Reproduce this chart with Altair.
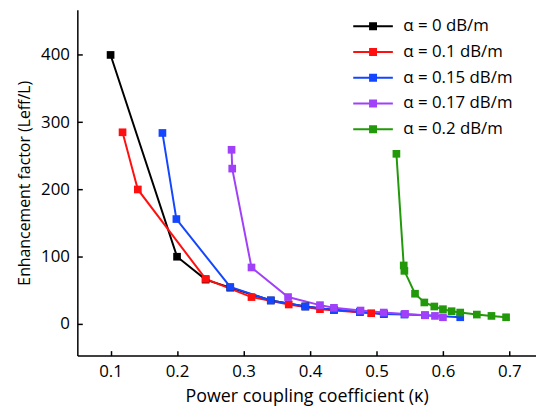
import altair as alt
import pandas as pd

names = ["α = 0 dB/m", "α = 0.1 dB/m", "α = 0.15 dB/m", "α = 0.17 dB/m", "α = 0.2 dB/m"]
colors = ["#000000", "#ff1010", "#1446ff", "#a040f8", "#22990a"]

black_x = [0.1, 0.2, 0.243, 0.28, 0.341, 0.393, 0.436, 0.475, 0.511]
black_y = [400, 100, 66, 54, 35, 26, 21, 18, 15]
red_x = [0.118, 0.141, 0.243, 0.312, 0.368, 0.415, 0.492]
red_y = [285, 200, 67, 40, 29, 22, 16]
blue_x = [0.178, 0.199, 0.280, 0.341, 0.393, 0.436, 0.475, 0.511, 0.542, 0.573, 0.626]
blue_y = [284, 156, 55, 35, 26, 21, 18, 15, 14, 13, 10]
purple_x = [0.282, 0.283, 0.312, 0.367, 0.415, 0.436, 0.476, 0.511, 0.543, 0.573, 0.588, 0.600]
purple_y = [259, 231, 84, 40, 28, 24, 20, 17, 15, 13, 12, 10]
green_x = [0.530, 0.541, 0.542, 0.558, 0.572, 0.587, 0.600, 0.613, 0.626, 0.651, 0.673, 0.695]
green_y = [253, 87, 79, 45, 32, 26, 22, 19, 17, 14, 12, 10]

series = [(black_x, black_y), (red_x, red_y), (blue_x, blue_y), (purple_x, purple_y), (green_x, green_y)]
rows = []
for i, (xs, ys) in enumerate(series):
    for xv, yv in zip(xs, ys):
        rows.append({"kappa": xv, "enh": yv, "series": names[i], "k": i})
df = pd.DataFrame(rows)

FONT = "Open Sans"
W, H = 463, 349
xscale = alt.Scale(domain=[0.05, 0.74], nice=False, zero=False)
yscale = alt.Scale(domain=[-47, 467], nice=False, zero=False)

# legend glyph: a line with a filled square in the middle (symbol radius 5px)
sym = ("M-4,0H4M-0.8,-0.6H0.8M-0.8,-0.4H0.8M-0.8,-0.2H0.8"
       "M-0.8,0.2H0.8M-0.8,0.4H0.8M-0.8,0.6H0.8")

color_leg = alt.Color(
    "series:N",
    scale=alt.Scale(domain=names, range=colors),
    legend=alt.Legend(
        title=None, orient="none", legendX=290, legendY=8,
        symbolType=sym, symbolSize=100, symbolStrokeWidth=2,
        symbolFillColor="transparent",
        labelFont=FONT, labelFontSize=17, labelColor="black",
        rowPadding=8, labelOffset=22,
    ),
)

base = alt.Chart(df)

lines = base.mark_line(strokeWidth=2).encode(
    x=alt.X("kappa:Q", scale=xscale,
            axis=alt.Axis(title="Power coupling coefficient  (κ)", values=[0.1, 0.2, 0.3, 0.4, 0.5, 0.6, 0.7],
                          format=".1f", ticks=False, labelPadding=8, grid=False,
                          domainColor="black", domainWidth=1.5,
                          labelFont=FONT, labelFontSize=17, labelColor="black",
                          titleFont=FONT, titleFontSize=18, titleFontWeight="normal", titleColor="black",
                          titlePadding=8)),
    y=alt.Y("enh:Q", scale=yscale,
            axis=alt.Axis(title="Enhancement factor (Leff/L)", values=[0, 100, 200, 300, 400],
                          ticks=False, labelPadding=8, grid=False,
                          domainColor="black", domainWidth=1.5,
                          labelFont=FONT, labelFontSize=17, labelColor="black",
                          titleFont=FONT, titleFontSize=16, titleFontWeight="normal", titleColor="black",
                          titlePadding=8)),
    color=color_leg,
    detail="k:N",
)

points = base.mark_square(size=60, opacity=1).encode(
    x=alt.X("kappa:Q", scale=xscale, axis=None),
    y=alt.Y("enh:Q", scale=yscale, axis=None),
    color=alt.Color("series:N", scale=alt.Scale(domain=names, range=colors), legend=None),
)

ticks = base.mark_point(opacity=0).encode(
    x=alt.X("kappa:Q", scale=xscale,
            axis=alt.Axis(orient="top", offset=-H, labels=False, domain=False, ticks=True,
                          tickSize=5, tickColor="black", tickWidth=1.5, grid=False, title=None,
                          values=[0.1, 0.2, 0.3, 0.4, 0.5, 0.6, 0.7])),
    y=alt.Y("enh:Q", scale=yscale,
            axis=alt.Axis(orient="right", offset=-W, labels=False, domain=False, ticks=True,
                          tickSize=5, tickColor="black", tickWidth=1.5, grid=False, title=None,
                          values=[0, 100, 200, 300, 400])),
)

chart = alt.layer(lines, points, ticks).resolve_axis(x="independent", y="independent").properties(
    width=W, height=H,
    padding={"left": 8, "top": 0, "right": 0, "bottom": 0},
).configure_view(stroke=None)

chart.save("out.html", embed_options={"renderer": "svg", "actions": False})
